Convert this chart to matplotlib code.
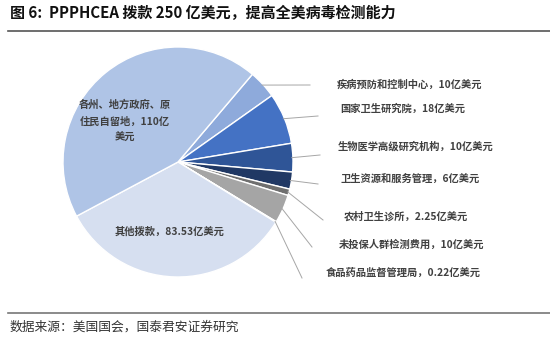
import numpy as np
import matplotlib
matplotlib.use("Agg")
import matplotlib.pyplot as plt

plt.rcParams["font.family"] = ["Noto Sans CJK SC", "DejaVu Sans"]

# Appropriations under PPPHCEA, in 100 million USD (clockwise order)
categories = [
    "疾病预防和控制中心", "国家卫生研究院", "生物医学高级研究机构",
    "卫生资源和服务管理", "农村卫生诊所", "未投保人群检测费用",
    "食品药品监督管理局", "其他拨款", "各州、地方政府、原住民自留地",
]
values = [10, 18, 10, 6, 2.25, 10, 0.22, 83.53, 110]
value_text = ["10", "18", "10", "6", "2.25", "10", "0.22", "83.53", "110"]
colors = ["#8eaadb", "#4472c4", "#2f5597", "#203864", "#6f6f6f",
          "#a5a5a5", "#d0d0d0", "#d6dff0", "#afc4e6"]

W, H = 550, 346
fig = plt.figure(figsize=(W / 100, H / 100), dpi=100)

# pie centre and radius in pixels
cx, cy, r = 178, 162, 115
ax = fig.add_axes([(cx - r) / W, 1 - (cy + r) / H, 2 * r / W, 2 * r / H])
wedges, _ = ax.pie(values, colors=colors, startangle=49.7, counterclock=False,
                   radius=1, wedgeprops=dict(edgecolor="white", linewidth=1.0))
ax.set_xlim(-1, 1)
ax.set_ylim(-1, 1)
ax.set_aspect("equal")
ax.axis("off")


def to_data(px, py):
    return (px - cx) / r, (cy - py) / r


# outside labels: leader end point and label centre in pixels
leader_end = [(310, 85), (318, 116), (320, 155), (318, 184), (323, 220), (312, 247), (302, 278)]
label_pos = [(409, 85), (403, 109), (416, 146), (410, 179), (406, 217), (412, 245), (403, 273)]

for i in range(7):
    w = wedges[i]
    mid = np.deg2rad((w.theta1 + w.theta2) / 2)
    x0, y0 = np.cos(mid) * 0.99, np.sin(mid) * 0.99
    x1, y1 = to_data(*leader_end[i])
    ax.plot([x0, x1], [y0, y1], color="#a6a6a6", lw=0.7, clip_on=False)
    lx, ly = to_data(*label_pos[i])
    ax.text(lx, ly, f"{categories[i]}，{value_text[i]}亿美元", ha="center", va="center",
            fontsize=7.4, fontweight="bold", color="#404040", clip_on=False)

# inside labels
tx, ty = to_data(125, 121)
ax.text(tx, ty, "各州、地方政府、原\n住民自留地，110亿\n美元", ha="center", va="center",
        fontsize=7.4, fontweight="bold", color="#404040", linespacing=1.75)
tx, ty = to_data(170, 232)
ax.text(tx, ty, f"{categories[7]}，{value_text[7]}亿美元", ha="center", va="center",
        fontsize=7.4, fontweight="bold", color="#404040")

# header and footer
fig.text(10 / W, 1 - 13 / H, "图 6:  PPPHCEA 拨款 250 亿美元，提高全美病毒检测能力",
         ha="left", va="center", fontsize=10.8, fontweight="bold", color="#111111")
fig.add_artist(plt.Line2D([8 / W, 1], [1 - 31 / H, 1 - 31 / H], color="#555555", lw=1.2))
fig.add_artist(plt.Line2D([8 / W, 1], [1 - 313 / H, 1 - 313 / H], color="#777777", lw=1.2))
fig.text(10 / W, 1 - 327 / H, "数据来源：美国国会，国泰君安证券研究",
         ha="left", va="center", fontsize=9.2, color="#333333")

fig.savefig("out.png", dpi=100)
